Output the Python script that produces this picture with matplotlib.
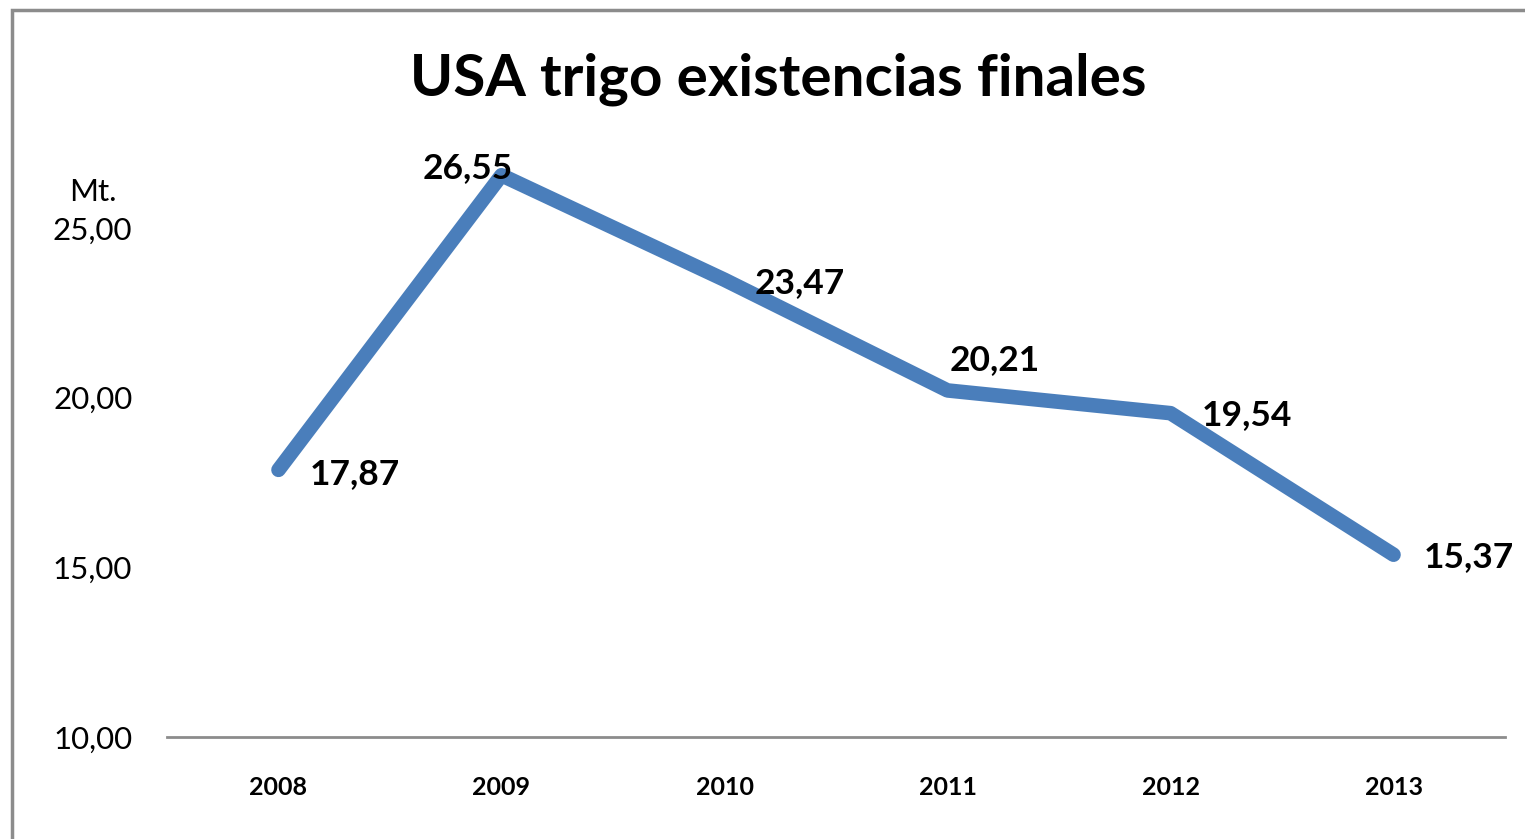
import matplotlib.pyplot as plt
from matplotlib.patches import Rectangle

# data
years = ['2008', '2009', '2010', '2011', '2012', '2013']
stocks = [17.87, 26.55, 23.47, 20.21, 19.54, 15.37]
yticks = [10, 15, 20, 25]

# label offsets (points) so labels sit like the Excel original
label_offsets = [(55, -3), (-24, 5), (54, -2), (34, 22), (55, -1), (54, -2)]

plt.rcParams['font.family'] = ['Lato', 'DejaVu Sans']

fig = plt.figure(figsize=(15.25, 8.39), dpi=100)
ax = fig.add_axes([0.1095, 0.1216, 0.8774, 0.7282])

x = list(range(len(years)))
ax.plot(x, stocks, color='#4a7ebb', linewidth=10.5,
        solid_capstyle='round', solid_joinstyle='round')

for xi, v, off in zip(x, stocks, label_offsets):
    ax.annotate(f'{v:.2f}'.replace('.', ','), (xi, v), xytext=off,
                textcoords='offset points', ha='center', va='center',
                fontsize=25.5, fontweight='bold', color='black')

ax.set_xlim(-0.5, len(years) - 0.5)
ax.set_ylim(10, 28)
ax.set_xticks(x)
ax.set_xticklabels(years, fontsize=18, fontweight='bold')
ax.set_yticks(yticks)
ax.set_yticklabels([f'{t:.2f}'.replace('.', ',') for t in yticks], fontsize=22.5)
ax.tick_params(axis='both', length=0)
ax.tick_params(axis='y', pad=25)
ax.tick_params(axis='x', pad=28)

for s in ['top', 'right', 'left']:
    ax.spines[s].set_visible(False)
ax.spines['bottom'].set_color('#8c8c8c')
ax.spines['bottom'].set_linewidth(2)

fig.text(0.061, 0.771, 'Mt.', fontsize=22.5, ha='center', va='center')
fig.text(0.51, 0.905, 'USA trigo existencias finales', fontsize=42,
         fontweight='bold', ha='center', va='center')

# outer frame of the chart area
fig.patches.append(Rectangle((12 / 1525, -0.1), 1.2, 1 - 10 / 839 + 0.1,
                             transform=fig.transFigure, fill=False,
                             edgecolor='#8c8c8c', linewidth=2.5))

fig.savefig('out.png', dpi=100)
